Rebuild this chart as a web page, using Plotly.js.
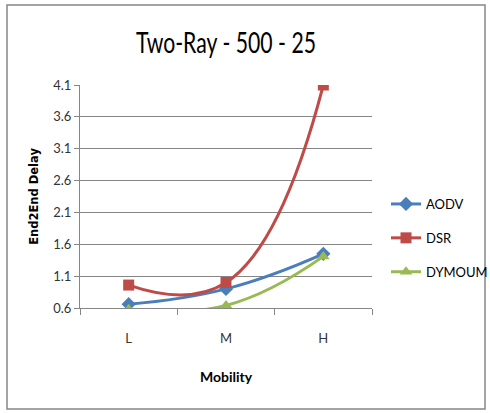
<!DOCTYPE html>
<html><head><meta charset="utf-8">
<script src="https://cdn.plot.ly/plotly-3.0.1.min.js"></script>
<style>html,body{margin:0;padding:0;background:#fff}#chart{width:490px;height:413px}</style>
</head><body><div id="chart"></div>
<script>
const categories = ["L", "M", "H"];
const aodv = [0.66, 0.9, 1.45];
const dsr = [0.96, 1.0, 4.1];
const dymoum = [0.58, 0.64, 1.41];
const seriesNames = ["AODV", "DSR", "DYMOUM"];
const yTicks = [0.6, 1.1, 1.6, 2.1, 2.6, 3.1, 3.6, 4.1];

const W = 490, H = 413;
const m = {l: 80, r: 118, t: 85, b: 105};
const pw = W - m.l - m.r, ph = H - m.t - m.b;
const px = v => (v - m.l) / pw;
const py = v => (H - m.b - v) / ph;

const colors = ["#4A7EBB", "#BE4B48", "#98B954"];
const symbols = ["diamond", "square", "triangle-up"];
const data = [aodv, dsr, dymoum].map((vals, i) => ({
  type: "scatter", mode: "lines+markers", name: seriesNames[i],
  x: categories, y: vals, legendgroup: "g" + i,
  line: {color: colors[i], width: 3, shape: "spline", smoothing: 1.3},
  marker: {symbol: symbols[i], size: 11, color: colors[i]},
  cliponaxis: true
}));

const font = "Lato, 'Open Sans', sans-serif";
const tickFont = {family: font, size: 13, color: "#333"};
const layout = {
  width: W, height: H, margin: m,
  paper_bgcolor: "#fff", plot_bgcolor: "#fff",
  showlegend: true,
  title: {text: "Two-Ray - 500 - 25", font: {family: font, size: 29, color: "#000"},
          x: 0.5, xref: "paper", xanchor: "center", y: 1 - 43 / H, yanchor: "middle"},
  xaxis: {type: "category", range: [-0.5, 2.5], tickson: "boundaries",
          ticks: "outside", ticklen: 6, tickcolor: "#868686",
          showline: true, linecolor: "#868686", linewidth: 1, showgrid: false,
          tickfont: tickFont, fixedrange: true, ticklabelstandoff: 18,
          title: {text: "Mobility", font: {family: font, size: 14, color: "#000", weight: "bold"}, standoff: 27}},
  yaxis: {range: [0.6, 4.1], tickvals: yTicks, ticktext: yTicks.map(v => v.toFixed(1)),
          ticks: "outside", ticklen: 5, tickcolor: "#868686",
          showline: true, linecolor: "#868686", linewidth: 1,
          showgrid: true, gridcolor: "#868686", gridwidth: 1, zeroline: false,
          tickfont: tickFont, fixedrange: true,
          title: {text: "End2End Delay", font: {family: "'DejaVu Sans', sans-serif", size: 11.5, color: "#000", weight: "bold"}, standoff: 12}},
  legend: {xref: "container", yref: "container", x: 386 / W, xanchor: "left", y: 1 - 238 / H, yanchor: "middle",
           font: {family: font, size: 13, color: "#000"},
           traceorder: "grouped", tracegroupgap: 14, bgcolor: "rgba(0,0,0,0)", itemwidth: 30},
  shapes: [{type: "rect", xref: "paper", yref: "paper",
            x0: px(7), x1: px(485), y0: py(409), y1: py(5),
            line: {color: "#868686", width: 1.5}, fillcolor: "rgba(0,0,0,0)", layer: "below"}]
};
Plotly.newPlot("chart", data, layout, {displayModeBar: false, staticPlot: true}).then(gd => {
  const t = gd.querySelector(".gtitle");
  if (t) { t.setAttribute("textLength", "180"); t.setAttribute("lengthAdjust", "spacingAndGlyphs"); }
});
</script></body></html>
